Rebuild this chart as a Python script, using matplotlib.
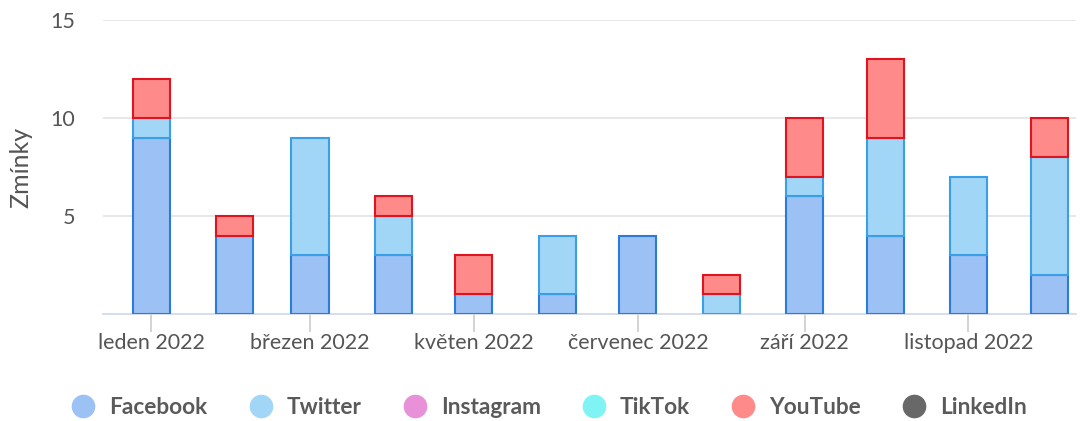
import matplotlib
matplotlib.use("Agg")
import matplotlib.pyplot as plt
import matplotlib.dates as mdates
from matplotlib.lines import Line2D
import numpy as np
import datetime as dt

months = [dt.date(2022, m, 1) for m in range(1, 13)]
facebook  = [9, 4, 3, 3, 1, 1, 4, 0, 6, 4, 3, 2]
twitter   = [1, 0, 6, 2, 0, 3, 0, 1, 1, 5, 4, 6]
instagram = [0] * 12
tiktok    = [0] * 12
youtube   = [2, 1, 0, 1, 2, 0, 0, 1, 3, 4, 0, 2]
linkedin  = [0] * 12
tick_labels = ["leden 2022", "březen 2022", "květen 2022", "červenec 2022", "září 2022", "listopad 2022"]

series = [
    ("Facebook", facebook, "#9cc2f5", "#2b7bd8"),
    ("Twitter", twitter, "#a2d6f7", "#3a9fe6"),
    ("Instagram", instagram, "#e891d9", "#c050b0"),
    ("TikTok", tiktok, "#80f4f4", "#30c0c0"),
    ("YouTube", youtube, "#ff8a8a", "#e0141e"),
    ("LinkedIn", linkedin, "#686868", "#404040"),
]

plt.rcParams['font.family'] = ['Lato', 'DejaVu Sans']
fig = plt.figure(figsize=(10.84, 4.21), dpi=100)
ax = fig.add_axes([103/1084, 1-314/421, (1076-103)/1084, (314-20)/421])

x = mdates.date2num(months)
width = 13.8
bottom = np.zeros(12)
for name, vals, fc, ec in series:
    v = np.array(vals, dtype=float)
    mask = v > 0
    ax.bar(x[mask], v[mask], width=width, bottom=bottom[mask], color=fc,
           edgecolor=ec, linewidth=1.5, zorder=3)
    bottom += v

ax.set_ylim(0, 15)
ax.set_yticks([5, 10, 15])
ax.set_xlim(mdates.date2num(dt.date(2021, 12, 14)), mdates.date2num(dt.date(2022, 12, 11)))
ax.set_xticks(x[::2])
ax.set_xticklabels(tick_labels)
ax.grid(axis='y', color='#e3e3e3', linewidth=1.2, zorder=0)
for s in ['top', 'right', 'left']:
    ax.spines[s].set_visible(False)
ax.spines['bottom'].set_color('#d0d8e8')
ax.spines['bottom'].set_linewidth(1.2)
ax.tick_params(axis='x', colors='#cccccc', length=13, width=1.2, labelcolor='#555555', labelsize=15.5, pad=1)
ax.tick_params(axis='y', length=0, labelcolor='#555555', labelsize=15.5, pad=20)
ax.set_ylabel("Zmínky", color='#555555', fontsize=18)
ax.yaxis.set_label_coords(-0.073, 0.5)

handles = [Line2D([0], [0], marker='o', linestyle='none', markersize=16,
                  markerfacecolor=fc, markeredgecolor=fc) for _, _, fc, _ in series]
fig.legend(handles, [s[0] for s in series], loc='center', bbox_to_anchor=(0.507, 1-407/421),
           ncol=6, frameon=False, handlelength=1.0, handletextpad=0.65, columnspacing=1.85,
           prop={'family': 'Lato', 'weight': 'bold', 'size': 16.3}, labelcolor='#5a5a5a')

fig.savefig("out.png", dpi=100)
